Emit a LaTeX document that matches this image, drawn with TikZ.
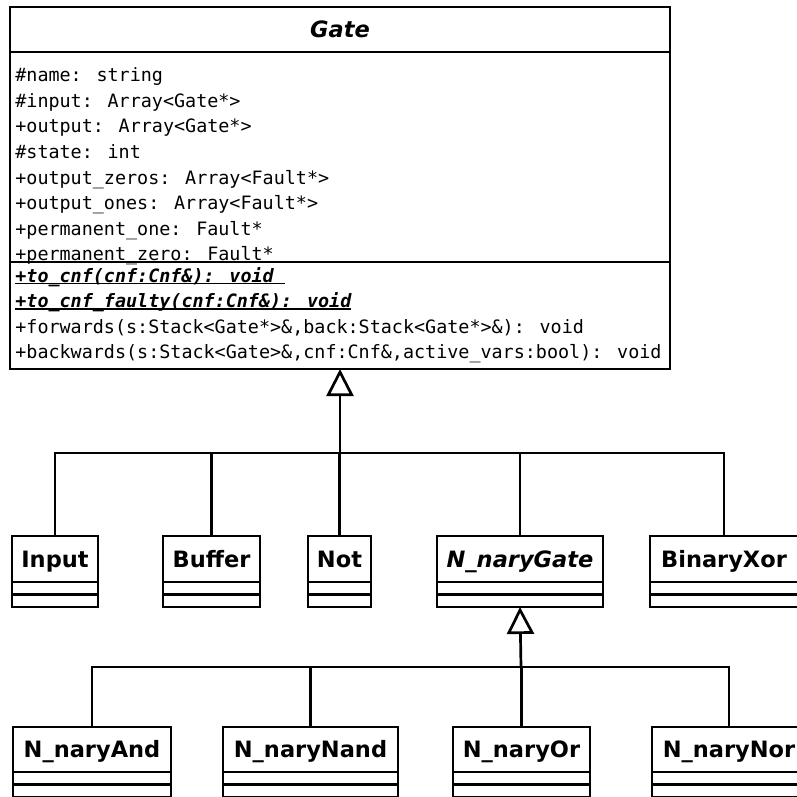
\documentclass[tikz,border=0pt]{standalone}
\usepackage{fontspec}
\usetikzlibrary{arrows.meta}
\usetikzlibrary{positioning}
\newfontfamily\umlsans{DejaVu Sans}
\newfontfamily\umlmono{DejaVu Sans Mono}
\newcommand{\staticop}[1]{\setbox0\hbox{#1}\rlap{\rule[-2.2pt]{\wd0}{1.4pt}}\box0}

\begin{document}
\begin{tikzpicture}[x=1pt, y=-1pt, line width=2.7pt,
    classhead/.style={draw, outer sep=0pt, inner sep=0pt, text height=16.4pt, text depth=0pt,
        font=\umlsans\bfseries\fontsize{22.5}{27}\selectfont},
    classbox/.style={draw, outer sep=0pt, inner sep=0pt, minimum width=660pt},
    member/.style={anchor=base west, inner sep=0pt, font=\umlmono\fontsize{18.4}{25.6}\selectfont},
    generalize/.style={-{Triangle[open, length=27pt, width=27pt]}}]
    \useasboundingbox (0,0) rectangle (797,796);
    \clip (0,0) rectangle (797,796);

    % base class
    \node[classhead, minimum width=660pt, minimum height=45pt] (gate) at (340,29.5) {\itshape Gate};
    \node[classbox, minimum height=210pt, below=0pt of gate] (gateattrs) {};
    \node[classbox, minimum height=107pt, below=0pt of gateattrs] (gateops) {};
    \node[member] (name) at (14,81.7) {\#name: string};
    \node[member] (input) at (14,107.3) {\#input: Array<Gate*>};
    \node[member] (output) at (14,132.9) {+output: Array<Gate*>};
    \node[member] (state) at (14,158.5) {\#state: int};
    \node[member] (zeros) at (14,184.1) {+output\_zeros: Array<Fault*>};
    \node[member] (ones) at (14,209.7) {+output\_ones: Array<Fault*>};
    \node[member] (permone) at (14,235.3) {+permanent\_one: Fault*};
    \node[member] (permzero) at (14,260.9) {+permanent\_zero: Fault*};
    \node[member] (tocnf) at (14,282) {\bfseries\itshape\staticop{+to\_cnf(cnf:Cnf\&): void\ }};
    \node[member] (tocnffaulty) at (14,307.6) {\bfseries\itshape\staticop{+to\_cnf\_faulty(cnf:Cnf\&): void}};
    \node[member] (forwards) at (14,333.2) {+forwards(s:Stack<Gate*>\&,back:Stack<Gate*>\&): void};
    \node[member] (backwards) at (14,358.8) {+backwards(s:Stack<Gate>\&,cnf:Cnf\&,active\_vars:bool): void};

    % first level
    \node[classhead, minimum width=86pt, minimum height=46pt] (inputgate) at (55,559) {Input};
    \node[classhead, minimum width=97pt, minimum height=46pt] (buffer) at (211.5,559) {Buffer};
    \node[classhead, minimum width=63pt, minimum height=46pt] (not) at (339.5,559) {Not};
    \node[classhead, minimum width=166pt, minimum height=46pt] (nary) at (520,559) {\itshape N\_naryGate};
    \node[classhead, minimum width=148pt, minimum height=46pt] (xor) at (724,559) {BinaryXor};

    % second level
    \node[classhead, minimum width=158pt, minimum height=45pt] (naryand) at (92,749.5) {N\_naryAnd};
    \node[classhead, minimum width=175pt, minimum height=45pt] (narynand) at (310.5,749.5) {N\_naryNand};
    \node[classhead, minimum width=137pt, minimum height=45pt] (naryor) at (521.5,749.5) {N\_naryOr};
    \node[classhead, minimum width=154pt, minimum height=45pt] (narynor) at (729,749.5) {N\_naryNor};

    \foreach \cls in {inputgate, buffer, not, nary, xor, naryand, narynand, naryor, narynor}
        \draw (\cls.south west) rectangle ([yshift=-12.5pt]\cls.south east)
              ([yshift=-12.5pt]\cls.south west) rectangle ([yshift=-25pt]\cls.south east);

    % inheritance
    \coordinate (gatebus) at (340,453);
    \draw[generalize] (gatebus) -- (gateops.south);
    \draw (inputgate.north) |- (xor.north |- gatebus) -- (xor.north);
    \draw (buffer.north) -- (buffer.north |- gatebus);
    \draw (not.north) -- (not.north |- gatebus);
    \draw (nary.north) -- (nary.north |- gatebus);

    \coordinate (narybus) at (521,667);
    \draw[generalize] (narybus) -- ([yshift=-25pt]nary.south);
    \draw (naryand.north) |- (narynor.north |- narybus) -- (narynor.north);
    \draw (narynand.north) -- (narynand.north |- narybus);
    \draw (naryor.north) -- (naryor.north |- narybus);
\end{tikzpicture}
\end{document}
